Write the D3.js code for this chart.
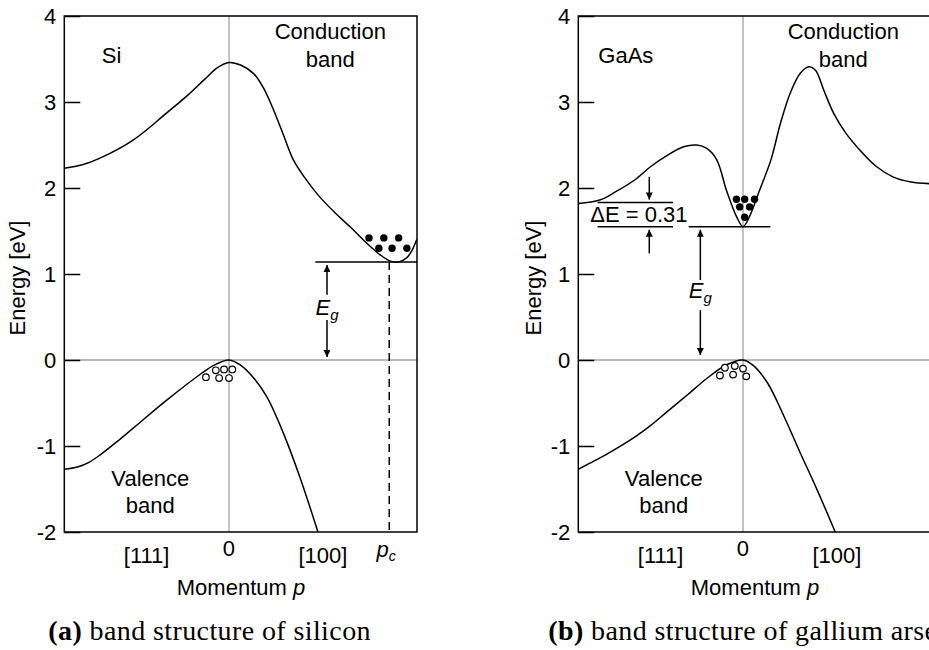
<!DOCTYPE html>
<html>
<head>
<meta charset="utf-8">
<script src="https://cdn.jsdelivr.net/npm/d3@7"></script>
<style>
    body { margin: 0; background: #fff; }
    svg { display: block; font-family: "Liberation Sans", Arial, sans-serif; }
</style>
</head>
<body>
<svg id="chart" width="929" height="650"></svg>
<script>
'use strict';

// energy ticks [eV]
var energyTicks = [-2, -1, 0, 1, 2, 3, 4];

// momentum labels: [text, p]
var siMomentumLabels = [['[111]', -0.5], ['0', 0], ['[100]', 0.57]];
var gaasMomentumLabels = [['[111]', -0.5], ['0', 0], ['[100]', 0.57]];

// bands, [p, E]
var siConduction = [
    [-1.00, 2.23], [-0.89, 2.27], [-0.78, 2.35], [-0.58, 2.56], [-0.38, 2.87], [-0.25, 3.08],
    [-0.15, 3.26], [-0.07, 3.40], [0.00, 3.46], [0.07, 3.43], [0.15, 3.33], [0.21, 3.16],
    [0.27, 2.91], [0.33, 2.62], [0.39, 2.33], [0.46, 2.12], [0.54, 1.92], [0.65, 1.70],
    [0.74, 1.54], [0.83, 1.37], [0.92, 1.22], [0.98, 1.15], [1.03, 1.14], [1.08, 1.19],
    [1.11, 1.27], [1.14, 1.40]
];
var siValence = [
    [-1.00, -1.27], [-0.92, -1.245], [-0.85, -1.19], [-0.78, -1.10], [-0.68, -0.95], [-0.58, -0.79],
    [-0.38, -0.47], [-0.17, -0.16], [-0.09, -0.06], [0.00, 0.00], [0.07, -0.06], [0.15, -0.21],
    [0.23, -0.43], [0.33, -0.85], [0.43, -1.36], [0.54, -2.00]
];
var gaasConduction = [
    [-1.00, 1.82], [-0.87, 1.86], [-0.77, 1.96], [-0.66, 2.09], [-0.56, 2.25], [-0.46, 2.38],
    [-0.36, 2.48], [-0.28, 2.50], [-0.22, 2.46], [-0.16, 2.33], [-0.10, 1.97], [-0.04, 1.67],
    [0.00, 1.55], [0.04, 1.67], [0.10, 1.97], [0.17, 2.33], [0.23, 2.77], [0.29, 3.12],
    [0.35, 3.34], [0.40, 3.41], [0.44, 3.37], [0.49, 3.14], [0.55, 2.87], [0.62, 2.65],
    [0.71, 2.44], [0.81, 2.25], [0.91, 2.13], [1.02, 2.07], [1.14, 2.05]
];
var gaasValence = [
    [-1.00, -1.27], [-0.90, -1.17], [-0.80, -1.065], [-0.66, -0.90], [-0.56, -0.76], [-0.46, -0.60],
    [-0.34, -0.41], [-0.22, -0.215], [-0.10, -0.055], [0.00, 0.00], [0.06, -0.06], [0.15, -0.27],
    [0.25, -0.66], [0.35, -1.09], [0.45, -1.51], [0.56, -2.00]
];

// carriers, [p, E]
var siElectrons = [[0.85, 1.42], [0.94, 1.42], [1.03, 1.42], [0.91, 1.30], [0.99, 1.30], [1.08, 1.30]];
var siHoles = [[-0.14, -0.20], [-0.08, -0.12], [-0.03, -0.11], [0.02, -0.11], [-0.06, -0.21], [0.00, -0.21]];
var gaasElectrons = [[-0.04, 1.87], [0.01, 1.87], [0.07, 1.87], [-0.02, 1.78], [0.04, 1.78], [0.01, 1.66]];
var gaasHoles = [[-0.14, -0.18], [-0.11, -0.09], [-0.05, -0.07], [0.00, -0.10], [-0.06, -0.17], [0.02, -0.19]];

// band edges [eV]
var siGap = 1.14, siPc = 0.973;
var gaasGap = 1.55, gaasDeltaE = 0.31;

var svg = d3.select('#chart');
var pxPerUnit = 164.7;
var fontSize = 22;

svg.append('defs').append('marker')
    .attr('id', 'head')
    .attr('viewBox', '0 0 10 10')
    .attr('refX', 10).attr('refY', 5)
    .attr('markerWidth', 8).attr('markerHeight', 7)
    .attr('markerUnits', 'userSpaceOnUse')
    .attr('orient', 'auto')
    .append('path').attr('d', 'M0,0L10,5L0,10Z').attr('fill', '#000');

function drawPanel(opts) {
    var g = svg.append('g').attr('transform', 'translate(' + opts.left + ',0)');
    var x = d3.scaleLinear().domain([-1, 1.1415]).range([0, 2.1415 * pxPerUnit]);
    var y = d3.scaleLinear().domain([-2, 4]).range([532, 16]);
    var line = d3.line()
        .x(function (d) { return x(d[0]); })
        .y(function (d) { return y(d[1]); })
        .curve(d3.curveCatmullRom.alpha(0.5));

    // grey axes through E = 0 and p = 0
    g.append('line').attr('x1', x(-1)).attr('x2', x(1.1415)).attr('y1', y(0)).attr('y2', y(0))
        .attr('stroke', '#a3a3a3').attr('stroke-width', 1.3);
    g.append('line').attr('x1', x(0)).attr('x2', x(0)).attr('y1', y(4)).attr('y2', y(-2))
        .attr('stroke', '#a3a3a3').attr('stroke-width', 1.3);

    var yAxis = d3.axisLeft(y).tickValues(energyTicks).tickSize(-16).tickPadding(8)
        .tickFormat(function (d) { return String(d); });
    var ag = g.append('g').call(yAxis);
    ag.select('.domain').remove();
    ag.selectAll('line').attr('stroke', '#000').attr('stroke-width', 1.5);
    ag.selectAll('text').attr('font-size', fontSize).attr('font-family', null).attr('fill', '#000');

    g.append('rect').attr('x', x(-1)).attr('y', y(4))
        .attr('width', x(1.1415) - x(-1)).attr('height', y(-2) - y(4))
        .attr('fill', 'none').attr('stroke', '#000').attr('stroke-width', 1.5);

    [opts.conduction, opts.valence].forEach(function (band) {
        g.append('path').attr('d', line(band))
            .attr('fill', 'none').attr('stroke', '#000').attr('stroke-width', 1.5);
    });

    g.selectAll('.electron').data(opts.electrons).enter().append('circle')
        .attr('class', 'electron')
        .attr('cx', function (d) { return x(d[0]); })
        .attr('cy', function (d) { return y(d[1]); })
        .attr('r', 3.7).attr('fill', '#000');
    g.selectAll('.hole').data(opts.holes).enter().append('circle')
        .attr('class', 'hole')
        .attr('cx', function (d) { return x(d[0]); })
        .attr('cy', function (d) { return y(d[1]); })
        .attr('r', 3.3).attr('fill', '#fff').attr('stroke', '#000').attr('stroke-width', 1.2);

    // momentum labels
    g.selectAll('.plabel').data(opts.momentumLabels).enter().append('text')
        .attr('class', 'plabel')
        .attr('x', function (d) { return x(d[1]); })
        .attr('y', function (d) { return d[0] === '0' ? 556 : 563; })
        .attr('text-anchor', 'middle').attr('font-size', fontSize)
        .text(function (d) { return d[0]; });

    var xt = g.append('text').attr('x', x(0) + 12).attr('y', 595)
        .attr('text-anchor', 'middle').attr('font-size', fontSize);
    xt.append('tspan').text('Momentum ');
    xt.append('tspan').attr('font-style', 'italic').text('p');

    g.append('text')
        .attr('transform', 'translate(' + opts.yTitleX + ',278) rotate(-90)')
        .attr('text-anchor', 'middle').attr('font-size', fontSize)
        .text('Energy [eV]');

    g.append('text').attr('x', opts.nameX).attr('y', 63).attr('font-size', fontSize).text(opts.name);
    g.append('text').attr('x', opts.condX).attr('y', 39).attr('text-anchor', 'middle')
        .attr('font-size', fontSize).text('Conduction');
    g.append('text').attr('x', opts.condX).attr('y', 66.5).attr('text-anchor', 'middle')
        .attr('font-size', fontSize).text('band');
    g.append('text').attr('x', opts.valX).attr('y', 485.5).attr('text-anchor', 'middle')
        .attr('font-size', fontSize).text('Valence');
    g.append('text').attr('x', opts.valX).attr('y', 512.5).attr('text-anchor', 'middle')
        .attr('font-size', fontSize).text('band');

    var cap = svg.append('text').attr('x', opts.left + opts.captionDx).attr('y', 640)
        .attr('font-family', '"Liberation Serif", "Times New Roman", serif')
        .attr('font-size', 28).attr('letter-spacing', 0.4);
    cap.append('tspan').attr('font-weight', 'bold').text(opts.captionTag);
    cap.append('tspan').text(' ' + opts.caption);

    return { g: g, x: x, y: y };
}

function arrow(g, x1, y1, x2, y2) {
    g.append('line').attr('x1', x1).attr('y1', y1).attr('x2', x2).attr('y2', y2)
        .attr('stroke', '#000').attr('stroke-width', 1.5).attr('marker-end', 'url(#head)');
}

function hline(g, x1, x2, yv) {
    g.append('line').attr('x1', x1).attr('x2', x2).attr('y1', yv).attr('y2', yv)
        .attr('stroke', '#000').attr('stroke-width', 1.5);
}

function gapLabel(g, xv, yv) {
    var t = g.append('text').attr('x', xv).attr('y', yv).attr('text-anchor', 'middle')
        .attr('font-size', fontSize).attr('font-style', 'italic');
    t.append('tspan').text('E');
    t.append('tspan').attr('font-size', 15).attr('dy', 5).text('g');
}

// (a) silicon
var a = drawPanel({
    left: 64.3, name: 'Si', nameX: 37.5, condX: 266, valX: 86,
    yTitleX: -39.3, captionDx: -16, captionTag: '(a)', caption: 'band structure of silicon',
    conduction: siConduction, valence: siValence,
    electrons: siElectrons, holes: siHoles, momentumLabels: siMomentumLabels
});
hline(a.g, a.x(0.524), a.x(1.1415), a.y(siGap));
a.g.append('line').attr('x1', a.x(siPc)).attr('x2', a.x(siPc))
    .attr('y1', a.y(siGap)).attr('y2', a.y(-2))
    .attr('stroke', '#000').attr('stroke-width', 1.5).attr('stroke-dasharray', '8,5');
arrow(a.g, a.x(0.595), a.y(0.76), a.x(0.595), a.y(siGap) + 3);
arrow(a.g, a.x(0.595), a.y(0.465), a.x(0.595), a.y(0) - 3);
gapLabel(a.g, a.x(0.595), a.y(0.523));
var pc = a.g.append('text').attr('x', a.x(siPc) - 3).attr('y', 557)
    .attr('text-anchor', 'middle').attr('font-size', fontSize).attr('font-style', 'italic');
pc.append('tspan').text('p');
pc.append('tspan').attr('font-size', 14).attr('dy', 4).text('c');

// (b) gallium arsenide
var b = drawPanel({
    left: 578.3, name: 'GaAs', nameX: 20, condX: 265, valX: 85.5,
    yTitleX: -37, captionDx: -30, captionTag: '(b)', caption: 'band structure of gallium arsenide',
    conduction: gaasConduction, valence: gaasValence,
    electrons: gaasElectrons, holes: gaasHoles, momentumLabels: gaasMomentumLabels
});
hline(b.g, b.x(-0.33), b.x(0.166), b.y(gaasGap));
hline(b.g, b.x(-0.883), b.x(-0.425), b.y(gaasGap + gaasDeltaE - 0.03));
hline(b.g, b.x(-0.883), b.x(-0.425), b.y(gaasGap));
arrow(b.g, b.x(-0.569), b.y(2.13), b.x(-0.569), b.y(gaasGap + gaasDeltaE - 0.03) - 3);
arrow(b.g, b.x(-0.569), b.y(1.24), b.x(-0.569), b.y(gaasGap) + 3);
b.g.append('text').attr('x', b.x(-0.927)).attr('y', b.y(1.6)).attr('font-size', fontSize)
    .text('\u0394E = ' + gaasDeltaE);
arrow(b.g, b.x(-0.259), b.y(0.93), b.x(-0.259), b.y(gaasGap) + 3);
arrow(b.g, b.x(-0.259), b.y(0.58), b.x(-0.259), b.y(0) - 5);
gapLabel(b.g, b.x(-0.259), b.y(0.72));
</script>
</body>
</html>
